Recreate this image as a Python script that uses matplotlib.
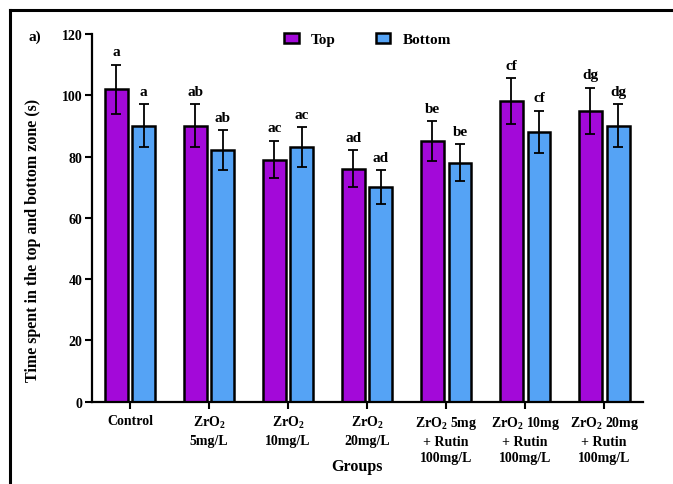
import numpy as np
import matplotlib.pyplot as plt
from matplotlib.lines import Line2D

plt.rcParams['font.family'] = 'Liberation Serif'
plt.rcParams['font.weight'] = 'bold'
plt.rcParams['mathtext.fontset'] = 'custom'
plt.rcParams['mathtext.rm'] = 'Liberation Serif:bold'
plt.rcParams['mathtext.bf'] = 'Liberation Serif:bold'
plt.rcParams['mathtext.it'] = 'Liberation Serif:bold'

grupos = ['Control', 'ZrO$_2$\n5mg/L', 'ZrO$_2$\n10mg/L', 'ZrO$_2$\n20mg/L',
          'ZrO$_2$ 5mg\n+ Rutin\n100mg/L', 'ZrO$_2$ 10mg\n+ Rutin\n100mg/L',
          'ZrO$_2$ 20mg\n+ Rutin\n100mg/L']
top = [102, 90, 79, 76, 85, 98, 95]
top_err = [8, 7, 6, 6, 6.5, 7.5, 7.5]
bottom = [90, 82, 83, 70, 78, 88, 90]
bottom_err = [7, 6.5, 6.5, 5.5, 6, 7, 7]
letras_top = ['a', 'ab', 'ac', 'ad', 'be', 'cf', 'dg']
letras_bottom = ['a', 'ab', 'ac', 'ad', 'be', 'cf', 'dg']

morado = '#a309d9'
azul = '#55a3f5'

fig = plt.figure(figsize=(6.73, 4.85), dpi=100)
ax = fig.add_axes([0.1367, 0.1701, 0.8187, 0.7577])

x = np.arange(len(grupos))
w = 0.29
d = 0.175

ax.bar(x - d, top, w, color=morado, edgecolor='black', linewidth=1.8,
       label='Top', zorder=2)
ax.bar(x + d, bottom, w, color=azul, edgecolor='black', linewidth=1.8,
       label='Bottom', zorder=2)
ax.errorbar(x - d, top, yerr=top_err, fmt='none', ecolor='black',
            elinewidth=1.3, capsize=3.5, capthick=1.3, zorder=3)
ax.errorbar(x + d, bottom, yerr=bottom_err, fmt='none', ecolor='black',
            elinewidth=1.3, capsize=3.5, capthick=1.3, zorder=3)

for i in range(len(grupos)):
    ax.text(x[i] - d, top[i] + top_err[i] + 2.2, letras_top[i],
            ha='center', va='bottom', fontsize=11, fontweight='bold')
    ax.text(x[i] + d, bottom[i] + bottom_err[i] + 2.2, letras_bottom[i],
            ha='center', va='bottom', fontsize=11, fontweight='bold')

ax.set_xlim(-0.48, 6.49)
ax.set_ylim(0, 120)
ax.set_yticks(range(0, 121, 20))
ax.set_xticks(x)
ax.set_xticklabels(grupos, fontsize=10, fontweight='bold', linespacing=1.35)
ax.tick_params(axis='y', labelsize=10, width=1.5, length=5, pad=2)
ax.tick_params(axis='x', width=1.5, length=5, pad=4)
for s in ['top', 'right']:
    ax.spines[s].set_visible(False)
for s in ['left', 'bottom']:
    ax.spines[s].set_linewidth(1.6)

ax.set_ylabel('Time spent in the top and bottom zone (s)', fontsize=11.5,
              fontweight='bold', va='center')
ax.yaxis.set_label_coords(-0.107, 0.442)
ax.set_xlabel('Groups', fontsize=11.5, fontweight='bold', va='center')
ax.xaxis.set_label_coords(0.48, -0.1755)

ax.legend(loc='upper center', bbox_to_anchor=(0.5, 1.04), ncol=2,
          frameon=False, fontsize=11, handlelength=0.95, handleheight=0.6,
          columnspacing=2.6, handletextpad=0.8)

fig.text(0.051, 0.923, 'a)', fontsize=11, fontweight='bold',
         ha='center', va='center')

# marco superior e izquierdo
fig.add_artist(Line2D([10 / 673, 1.0], [1 - 11 / 485, 1 - 11 / 485],
                      color='black', linewidth=2.2))
fig.add_artist(Line2D([10 / 673, 10 / 673], [0.0, 1 - 11 / 485],
                      color='black', linewidth=2.2))

fig.savefig('out.png', dpi=100)
